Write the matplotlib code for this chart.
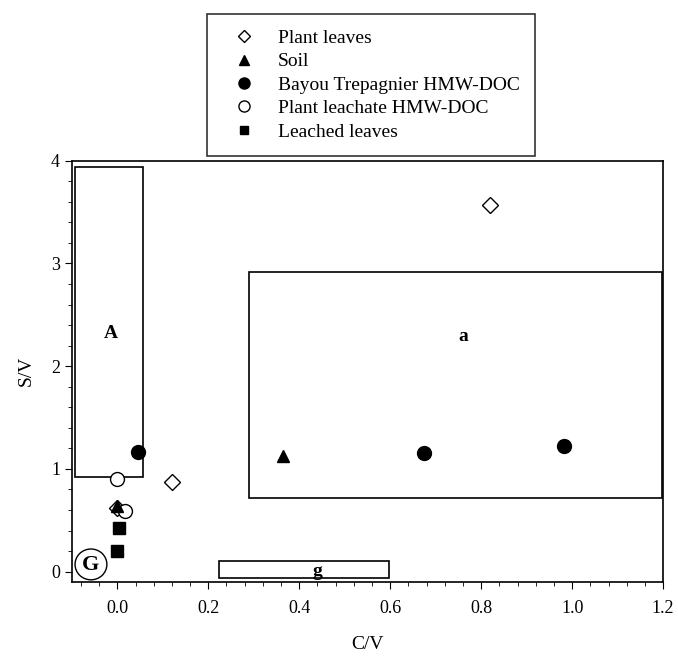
import numpy as np
import matplotlib
matplotlib.use("Agg")
from matplotlib import pyplot as plt
from matplotlib.patches import Rectangle, Ellipse
from matplotlib.ticker import MultipleLocator

plt.rcParams['font.family'] = ['Liberation Serif', 'DejaVu Serif']

# data (x = C/V, y = S/V)
leaves_x = [0.82, 0.12, 0.0]
leaves_y = [3.57, 0.87, 0.62]
soil_x = [0.364, 0.0]
soil_y = [1.13, 0.64]
bayou_x = [0.045, 0.674, 0.982]
bayou_y = [1.16, 1.15, 1.22]
leachate_x = [0.0, 0.017]
leachate_y = [0.90, 0.59]
leached_x = [0.003, 0.0]
leached_y = [0.42, 0.20]

# regions (x0, y0, x1, y1) and labels
regions = [(-0.093, 0.92, 0.056, 3.94), (0.289, 0.72, 1.197, 2.92), (0.223, -0.066, 0.597, 0.10)]
region_labels = ["A", "a", "g"]
label_pos = [(-0.014, 2.32), (0.76, 2.29), (0.44, 0.0)]

fig = plt.figure(figsize=(6.78, 6.56), dpi=100)
ax = fig.add_axes([0.106, 0.113, 0.872, 0.642])

for (x0, y0, x1, y1) in regions:
    ax.add_patch(Rectangle((x0, y0), x1 - x0, y1 - y0, fill=False, ec='black', lw=1.2, zorder=1))
for lab, (lx, ly) in zip(region_labels, label_pos):
    ax.text(lx, ly, lab, fontsize=14, fontweight='bold', ha='center', va='center', zorder=2)

ax.text(-0.058, 0.065, "G", fontsize=16, fontweight='bold', ha='center', va='center')
ax.add_patch(Ellipse((-0.058, 0.07), 0.070, 0.30, fill=False, ec='black', lw=1.0))

h1, = ax.plot(leaves_x, leaves_y, ls='none', marker='D', ms=8, mfc='white', mec='black', mew=1.0, label='Plant leaves', zorder=3)
h2, = ax.plot(soil_x, soil_y, ls='none', marker='^', ms=9, mfc='black', mec='black', label='Soil', zorder=4)
h3, = ax.plot(bayou_x, bayou_y, ls='none', marker='o', ms=10, mfc='black', mec='black', label='Bayou Trepagnier HMW-DOC', zorder=3)
h4, = ax.plot(leachate_x, leachate_y, ls='none', marker='o', ms=10, mfc='white', mec='black', mew=1.0, label='Plant leachate HMW-DOC', zorder=3)
h5, = ax.plot(leached_x, leached_y, ls='none', marker='s', ms=8, mfc='black', mec='black', label='Leached leaves', zorder=3)

ax.set_xlim(-0.1, 1.2)
ax.set_ylim(-0.1, 4.0)
ax.set_xticks([0.0, 0.2, 0.4, 0.6, 0.8, 1.0, 1.2])
ax.set_xticklabels(["0.0", "0.2", "0.4", "0.6", "0.8", "1.0", "1.2"])
ax.set_yticks([0, 1, 2, 3, 4])
ax.xaxis.set_minor_locator(MultipleLocator(0.04))
ax.yaxis.set_minor_locator(MultipleLocator(0.2))
ax.tick_params(which='both', direction='out', top=False, right=False, labelsize=13)
ax.tick_params(which='major', length=5)
ax.tick_params(which='minor', length=3)
ax.tick_params(axis='x', pad=8)
ax.set_xlabel("C/V", fontsize=14, labelpad=14)
ax.set_ylabel("S/V", fontsize=14, labelpad=12)
for s in ax.spines.values():
    s.set_linewidth(1.2)

leg = fig.legend(handles=[h1, h2, h3, h4, h5], loc='upper left', bbox_to_anchor=(0.305, 0.979),
                 borderaxespad=0, frameon=True, fancybox=False, edgecolor='black', fontsize=14,
                 handlelength=2.2, handletextpad=0.66, borderpad=0.8, labelspacing=0.3, markerscale=0.8)
leg.get_frame().set_linewidth(1.2)

fig.savefig("out.png", dpi=100)
